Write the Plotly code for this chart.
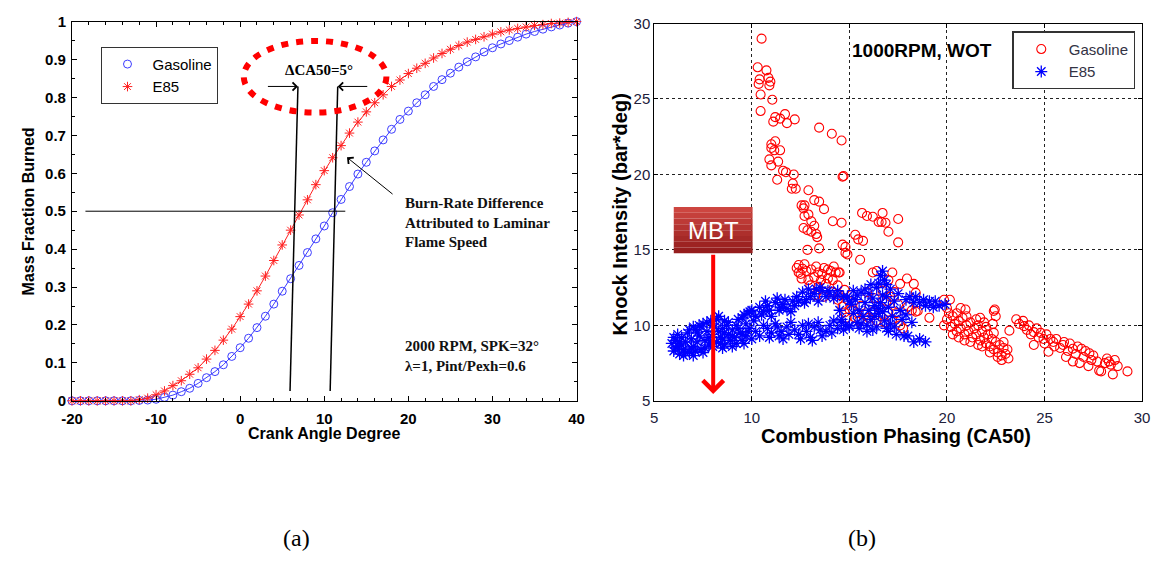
import plotly.graph_objects as go

# ---------------- data: panel (a) ----------------
crank_angle = list(range(-20, 41))
mfb_gasoline = [0, 0, 0, 0, 0, 0, 0, 0, 0.001, 0.002,
                0.004, 0.009, 0.015, 0.024, 0.033, 0.046, 0.061, 0.077, 0.095, 0.117,
                0.140, 0.165, 0.193, 0.223, 0.255, 0.289, 0.322, 0.357, 0.391, 0.427,
                0.461, 0.496, 0.531, 0.565, 0.598, 0.629, 0.659, 0.688, 0.716, 0.742,
                0.764, 0.786, 0.807, 0.829, 0.847, 0.864, 0.880, 0.894, 0.907, 0.920,
                0.931, 0.941, 0.950, 0.959, 0.967, 0.974, 0.980, 0.986, 0.991, 0.996,
                1.0]
mfb_e85 = [0, 0, 0, 0, 0, 0, 0, 0, 0.003, 0.007,
           0.016, 0.026, 0.040, 0.053, 0.070, 0.087, 0.110, 0.133, 0.160, 0.189,
           0.222, 0.255, 0.290, 0.329, 0.370, 0.411, 0.450, 0.490, 0.530, 0.570,
           0.607, 0.641, 0.673, 0.706, 0.735, 0.762, 0.786, 0.807, 0.829, 0.846,
           0.863, 0.877, 0.890, 0.904, 0.916, 0.927, 0.937, 0.946, 0.953, 0.960,
           0.967, 0.973, 0.978, 0.982, 0.986, 0.990, 0.992, 0.995, 0.996, 0.998,
           1.0]
a_xticks = [-20, -10, 0, 10, 20, 30, 40]
a_xticklabels = ["-20", "-10", "0", "10", "20", "30", "40"]
a_yticks = [0, 0.1, 0.2, 0.3, 0.4, 0.5, 0.6, 0.7, 0.8, 0.9, 1.0]
a_yticklabels = ["0", "0.1", "0.2", "0.3", "0.4", "0.5", "0.6", "0.7", "0.8", "0.9", "1"]

# ---------------- data: panel (b) ----------------
gasoline_points = [
    (10.5, 29.0), (10.3, 27.1), (10.75, 26.9), (10.4, 26.3), (10.85, 26.4), (10.35, 26.0),
    (10.9, 25.9), (10.95, 26.15), (10.45, 25.3), (11.05, 24.95), (10.45, 24.2), (11.2, 23.8),
    (11.1, 23.5), (11.7, 24.0), (11.45, 23.7), (11.8, 23.4), (12.2, 23.65), (13.45, 23.1),
    (14.1, 22.7), (14.6, 22.25), (14.7, 19.9), (14.65, 19.85),
    (11.0, 22.0), (11.2, 22.2), (11.0, 21.75), (11.45, 21.6), (11.15, 21.6), (10.9, 21.0),
    (11.35, 20.85), (11.0, 20.6), (11.6, 20.25), (11.75, 20.15), (11.3, 19.65), (12.15, 20.0),
    (12.1, 19.4), (12.05, 19.05), (12.25, 19.05), (12.9, 18.95), (13.2, 18.3), (13.45, 18.2),
    (12.7, 17.95), (12.55, 17.95), (12.65, 17.75), (13.7, 17.7), (12.7, 17.25), (12.9, 17.35),
    (13.05, 16.9), (12.65, 16.45), (12.85, 16.3), (13.05, 16.2), (13.3, 16.05), (13.35, 15.85),
    (13.2, 16.6), (14.15, 16.9), (14.6, 16.8), (13.45, 15.1), (12.85, 15.0), (14.65, 15.35),
    (14.8, 15.2), (14.8, 14.8), (14.9, 14.7),
    (15.3, 16.0), (15.45, 15.7), (15.7, 15.6), (15.65, 17.45), (15.9, 17.25), (16.2, 17.2),
    (16.7, 17.45), (16.65, 16.85), (16.85, 16.8), (17.0, 16.2), (17.5, 17.05), (17.5, 15.5),
    (15.55, 14.35), (16.5, 16.85), (14.45, 13.5),
    (12.3, 13.8), (12.4, 13.5), (12.7, 14.05), (13.05, 13.7), (13.4, 13.5), (13.7, 13.8),
    (14.05, 13.6), (14.3, 13.5), (14.5, 13.5), (12.55, 13.1), (12.9, 13.0), (13.2, 13.2),
    (13.55, 13.0), (13.9, 13.1), (14.15, 13.0), (13.0, 12.65), (13.4, 12.55), (13.8, 12.75),
    (12.5, 13.4), (12.8, 13.6), (13.3, 13.9), (13.6, 13.4), (13.9, 13.7), (14.2, 13.9),
    (14.4, 12.65), (12.4, 14.0), (12.6, 13.75),
    (13.25, 12.0), (13.7, 11.9), (14.15, 12.2), (14.4, 11.7), (14.65, 11.25), (14.75, 10.85),
    (14.9, 11.7), (14.85, 10.5), (15.0, 11.05), (14.5, 12.0), (14.75, 12.35), (15.2, 11.0),
    (15.4, 10.8), (15.6, 11.3), (15.8, 10.7), (16.0, 10.5), (16.2, 10.9), (16.4, 10.3),
    (15.3, 10.5), (15.5, 10.3), (16.6, 10.6), (16.8, 10.2), (17.0, 10.9), (17.2, 10.4),
    (17.4, 10.8), (17.6, 10.0), (17.75, 9.8), (18.0, 11.25), (18.2, 11.0), (18.4, 10.9),
    (16.7, 12.3), (16.9, 11.6), (17.1, 11.9), (17.3, 12.2), (17.5, 11.4), (15.9, 12.2),
    (15.1, 12.0), (16.3, 11.8), (16.4, 13.6), (17.2, 13.5), (17.6, 12.75), (17.95, 13.1),
    (18.3, 12.75), (18.4, 12.15), (18.5, 10.95), (19.1, 10.5), (16.2, 13.5), (17.0, 13.0),
    (19.85, 11.7), (20.15, 11.7), (20.0, 11.15), (20.7, 11.15), (20.95, 11.05), (21.7, 10.5),
    (22.4, 10.95), (22.5, 10.6), (22.35, 10.1), (23.2, 9.65), (19.85, 10.0),
    (20.0, 10.4), (20.2, 9.9), (20.3, 10.6), (20.4, 10.1), (20.5, 9.6), (20.6, 10.3),
    (20.7, 9.8), (20.8, 10.5), (20.9, 9.4), (21.0, 10.0), (21.1, 9.6), (21.2, 10.2),
    (21.3, 9.2), (21.4, 9.8), (21.5, 9.4), (21.6, 10.0), (21.7, 9.0), (21.8, 9.6),
    (21.9, 9.2), (22.0, 8.8), (22.1, 9.4), (22.2, 8.6), (22.3, 9.1), (22.4, 8.4),
    (22.5, 8.9), (22.6, 8.2), (22.7, 8.7), (22.8, 8.0), (22.9, 8.5), (23.0, 8.1),
    (23.1, 8.4), (23.15, 7.8), (22.6, 7.9), (22.0, 9.9), (21.5, 10.4), (21.0, 10.6),
    (20.5, 10.8), (21.2, 8.9), (21.8, 8.6), (22.4, 9.5), (20.1, 10.8), (20.6, 9.2), (22.9, 8.9),
    (20.3, 9.4), (20.9, 9.0), (21.6, 8.7), (22.2, 8.2), (22.8, 7.7), (21.9, 10.2),
    (23.55, 10.4), (23.95, 9.95), (24.45, 9.55), (24.95, 9.1), (25.45, 8.9), (25.95, 8.7),
    (26.45, 8.45), (26.9, 8.45), (27.3, 8.15), (28.3, 7.6), (27.9, 6.95), (28.5, 6.75),
    (29.25, 6.95), (24.45, 8.7), (25.2, 8.25), (26.45, 7.6), (27.25, 7.3), (28.75, 7.3),
    (27.8, 7.0), (22.45, 11.05),
    (23.7, 10.1), (23.9, 10.3), (24.1, 9.7), (24.2, 10.0), (24.3, 9.4), (24.6, 9.8),
    (24.7, 9.2), (24.8, 9.5), (25.0, 8.8), (25.1, 9.4), (25.3, 9.1), (25.5, 8.6),
    (25.6, 9.1), (25.8, 8.5), (26.0, 8.9), (26.2, 8.3), (26.3, 8.8), (26.6, 8.1),
    (26.7, 8.6), (27.0, 7.9), (27.1, 8.3), (27.4, 7.7), (27.5, 8.0), (27.7, 7.6),
    (28.1, 7.5), (28.2, 7.8), (28.4, 7.4), (28.6, 7.7), (26.8, 7.5), (26.1, 7.9),
]

e85_points = [
    (5.9, 8.8), (6.0, 8.3), (6.1, 9.0), (6.2, 8.6), (6.3, 8.1), (6.4, 9.2), (6.5, 8.4),
    (6.6, 8.9), (6.7, 9.5), (6.8, 8.2), (6.9, 9.1), (7.0, 8.6), (7.1, 9.7), (7.2, 8.9),
    (7.3, 9.3), (7.4, 8.4), (7.5, 10.1), (7.6, 9.0), (7.7, 9.6), (7.8, 8.7), (7.9, 10.3),
    (8.0, 9.4), (8.1, 9.9), (8.2, 8.9), (8.3, 10.6), (8.4, 9.2), (8.5, 9.8), (8.6, 8.7),
    (8.7, 10.0), (8.8, 9.4), (8.9, 9.0), (9.0, 9.7), (9.1, 9.2), (9.2, 8.8), (9.3, 10.4),
    (9.4, 9.5), (9.5, 9.0), (9.6, 10.7), (9.7, 9.3), (9.8, 9.6), (9.9, 10.9), (10.0, 9.1),
    (6.5, 8.0), (7.0, 8.0), (7.5, 8.2), (8.0, 8.6), (8.5, 8.5), (9.0, 8.6), (6.2, 9.4),
    (6.8, 9.7), (7.3, 10.0), (7.7, 10.2), (8.2, 10.4), (8.6, 10.3), (6.4, 8.7), (7.1, 8.3),
    (7.9, 8.9), (8.6, 9.5), (9.3, 9.8),
    (6.0, 9.2), (6.3, 8.9), (6.6, 8.2), (6.9, 8.5), (7.2, 9.5), (7.4, 9.9), (7.6, 8.5),
    (7.8, 9.2), (8.0, 10.1), (8.3, 9.6), (8.5, 9.1), (8.8, 10.2), (9.0, 9.3), (9.2, 10.0),
    (9.5, 9.4), (9.7, 10.1), (9.9, 9.8), (6.1, 8.5), (7.0, 9.9), (8.4, 8.8), (9.6, 8.8),
    (9.5, 10.5), (9.8, 10.8), (10.0, 11.0), (10.2, 10.6), (10.4, 11.2), (10.6, 10.9),
    (10.8, 11.3), (11.0, 10.6), (11.2, 11.5), (11.4, 11.0), (11.6, 11.4), (11.8, 11.1),
    (12.0, 10.9), (12.2, 11.3), (12.4, 11.6), (12.6, 12.2), (12.8, 11.7), (13.0, 11.9),
    (13.2, 12.1), (13.4, 11.6), (13.6, 12.3), (13.8, 11.9), (14.0, 12.2), (14.2, 11.8),
    (14.4, 12.0), (12.9, 12.4), (13.5, 12.5), (11.3, 11.8), (11.7, 11.7), (10.7, 11.6),
    (10.1, 10.3), (10.5, 10.7), (10.9, 11.0), (11.5, 11.2), (12.1, 11.6), (12.7, 11.5),
    (13.3, 12.4), (13.9, 12.3), (12.3, 11.9),
    (10.2, 9.6), (10.4, 9.3), (10.6, 10.0), (10.8, 9.8), (11.0, 9.5), (11.2, 10.1),
    (11.4, 9.3), (11.6, 9.1), (11.8, 9.9), (12.0, 10.2), (12.2, 9.7), (12.4, 9.4),
    (12.6, 10.0), (12.8, 9.6), (13.0, 9.2), (13.2, 9.9), (13.4, 10.2), (13.6, 9.3),
    (13.8, 9.6), (14.0, 10.0), (14.2, 10.3), (14.4, 9.8), (14.6, 10.2), (14.8, 10.0),
    (15.0, 9.9), (12.5, 9.1), (13.1, 9.0), (11.5, 9.6),
    (10.9, 9.2), (11.9, 9.4), (12.9, 10.1), (13.5, 9.7), (14.1, 9.5), (14.7, 9.7), (11.3, 9.9),
    (14.4, 12.3), (14.5, 11.0), (14.6, 10.4), (14.7, 11.9), (14.9, 11.9), (15.0, 10.0),
    (15.1, 11.4), (15.2, 10.8), (15.3, 11.7), (15.4, 10.2), (15.5, 11.0), (15.6, 12.2),
    (15.7, 10.6), (15.8, 11.5), (15.9, 10.0), (16.0, 12.1), (16.0, 11.0), (16.1, 10.4),
    (16.2, 11.8), (16.3, 11.3), (16.4, 12.5), (16.4, 9.9), (16.5, 10.8), (16.6, 13.3),
    (16.6, 11.5), (16.7, 12.0), (16.8, 13.0), (16.8, 10.3), (16.9, 11.9), (17.0, 11.2),
    (17.0, 9.6), (17.1, 12.4), (17.2, 10.6), (17.3, 11.6), (17.4, 9.4), (17.5, 12.1),
    (17.6, 11.0), (17.7, 10.4), (17.8, 9.3), (15.5, 9.8), (16.2, 9.7), (16.5, 12.8),
    (16.7, 13.6), (15.2, 12.3), (16.9, 12.7),
    (15.0, 11.6), (15.4, 12.0), (15.8, 12.4), (16.1, 12.7), (16.3, 10.6), (16.7, 10.9),
    (17.1, 10.1), (17.3, 9.9), (15.6, 10.1), (16.5, 11.1), (15.9, 9.6), (16.9, 9.8),
    (17.9, 11.7), (18.1, 11.9), (18.3, 11.5), (18.4, 11.9), (18.6, 11.5), (18.8, 11.7),
    (18.9, 11.3), (19.1, 11.6), (19.3, 11.2), (19.4, 11.6), (19.6, 11.3), (19.9, 11.4),
    (18.0, 9.3), (18.3, 8.9), (18.6, 9.1), (18.9, 8.9), (18.2, 10.2), (17.9, 10.7),
]

gas_ca50 = [p[0] for p in gasoline_points]
gas_ki = [p[1] for p in gasoline_points]
e85_ca50 = [p[0] for p in e85_points]
e85_ki = [p[1] for p in e85_points]

# ---------------- figure ----------------
W, H = 1156, 563


def pxx(v):
    return min(1.0, max(0.0, v / W))


def pxy(v):
    return min(1.0, max(0.0, 1 - v / H))


BLUE_A = "#3c3cff"
RED_A = "#ff2020"
SANS = "Liberation Sans, Arial, sans-serif"
SERIF = "Liberation Serif, Times New Roman, serif"

fig = go.Figure()

fig.add_trace(go.Scatter(x=crank_angle, y=mfb_gasoline, mode="lines",
                         line=dict(color=BLUE_A, width=1), showlegend=False,
                         xaxis="x", yaxis="y", cliponaxis=False))
fig.add_trace(go.Scatter(x=crank_angle, y=mfb_e85, mode="lines",
                         line=dict(color=RED_A, width=1), showlegend=False,
                         xaxis="x", yaxis="y", cliponaxis=False))
fig.add_trace(go.Scatter(x=crank_angle, y=mfb_gasoline, mode="markers", name="Gasoline",
                         marker=dict(symbol="circle-open", size=8, color=BLUE_A,
                                     line=dict(width=1, color=BLUE_A)),
                         xaxis="x", yaxis="y", legend="legend", cliponaxis=False))
fig.add_trace(go.Scatter(x=crank_angle, y=mfb_e85, mode="markers", name="E85",
                         marker=dict(symbol="asterisk-open", size=8, color=RED_A,
                                     line=dict(width=1, color=RED_A)),
                         xaxis="x", yaxis="y", legend="legend", cliponaxis=False))

fig.add_trace(go.Scatter(x=gas_ca50, y=gas_ki, mode="markers", name="Gasoline",
                         marker=dict(symbol="circle-open", size=9, color="#ff0000",
                                     line=dict(width=1.1, color="#ff0000")),
                         xaxis="x2", yaxis="y2", legend="legend2"))
fig.add_trace(go.Scatter(x=e85_ca50, y=e85_ki, mode="markers", name="E85",
                         marker=dict(symbol="asterisk-open", size=10, color="#0000ff",
                                     line=dict(width=1.3, color="#0000ff")),
                         xaxis="x2", yaxis="y2", legend="legend2"))

axis_common = dict(showline=True, linecolor="black", linewidth=1, mirror="ticks",
                   ticks="inside", tickcolor="black", zeroline=False)

fig.update_layout(
    width=W, height=H, margin=dict(l=0, r=0, t=0, b=0),
    paper_bgcolor="white", plot_bgcolor="white",
    xaxis=dict(domain=[pxx(62), pxx(575)], range=[-20, 40],
               tickmode="array", tickvals=a_xticks,
               ticktext=["<b>%s</b>" % t for t in a_xticklabels],
               ticklen=5, showgrid=False, anchor="y", ticklabelstandoff=4,
               tickfont=dict(family=SANS, size=15, color="black"),
               minor=dict(dtick=2, tick0=-20, ticks="inside", ticklen=3, tickcolor="black"),
               **axis_common),
    yaxis=dict(domain=[pxy(404), pxy(13)], range=[0, 1],
               tickmode="array", tickvals=a_yticks,
               ticktext=["<b>%s</b>" % t for t in a_yticklabels],
               ticklen=5, showgrid=False, anchor="x", ticklabelstandoff=2,
               tickfont=dict(family=SANS, size=15, color="black"),
               minor=dict(dtick=0.05, ticks="inside", ticklen=3, tickcolor="black"),
               **axis_common),
    xaxis2=dict(domain=[pxx(654), pxx(1150)], range=[5, 30], dtick=5, ticklen=4,
                showgrid=True, gridcolor="#222222", griddash="dot", gridwidth=1,
                anchor="y2", ticklabelstandoff=3,
                tickfont=dict(family=SANS, size=15, color="#20203a"),
                **axis_common),
    yaxis2=dict(domain=[pxy(404), pxy(15)], range=[5, 30], dtick=5, ticklen=4,
                showgrid=True, gridcolor="#222222", griddash="dot", gridwidth=1,
                anchor="x2", tickfont=dict(family=SANS, size=15, color="#20203a"),
                **axis_common),
    legend=dict(x=pxx(92), y=pxy(39), xanchor="left", yanchor="top",
                bordercolor="#333333", borderwidth=1, bgcolor="white", itemwidth=40,
                font=dict(family=SANS, size=15, color="black")),
    legend2=dict(x=pxx(1018), y=pxy(23), xanchor="left", yanchor="top",
                 bordercolor="#333333", borderwidth=1.5, bgcolor="white", itemwidth=45,
                 font=dict(family=SANS, size=15, color="#333344")),
)

shapes = []
# panel (a) guide lines
shapes.append(dict(type="line", xref="x", yref="y", x0=-18.4, y0=0.5, x1=12.5, y1=0.5,
                   line=dict(color="black", width=1)))
shapes.append(dict(type="line", xref="x", yref="y", x0=5.93, y0=0.026, x1=6.87, y1=0.829,
                   line=dict(color="black", width=1.5)))
shapes.append(dict(type="line", xref="x", yref="y", x0=10.7, y0=0.026, x1=11.6, y1=0.829,
                   line=dict(color="black", width=1.5)))
shapes.append(dict(type="circle", xref="x", yref="y", x0=0.43, y0=0.76, x1=17.39, y1=0.949,
                   line=dict(color="#ff0000", width=6, dash="7px,8px")))

# MBT box with vertical gradient
top_c = (205, 70, 64)
bot_c = (150, 30, 30)
y_top, y_bot = 17.85, 14.77
n_strips = 8
for i in range(n_strips):
    t = i / (n_strips - 1)
    c = tuple(int(top_c[k] + (bot_c[k] - top_c[k]) * t) for k in range(3))
    y1 = y_top - (y_top - y_bot) * i / n_strips
    y0 = y_top - (y_top - y_bot) * (i + 1) / n_strips
    shapes.append(dict(type="rect", xref="x2", yref="y2", x0=6.0, x1=10.04, y0=y0, y1=y1,
                       fillcolor="rgb(%d,%d,%d)" % c, line=dict(width=0), layer="above"))
fig.update_layout(shapes=shapes)

C = dict(xanchor="center", yanchor="middle")
ann = []
# panel (a) arrows
ann.append(dict(xref="x", yref="y", axref="x", ayref="y", x=6.87, y=0.829, ax=3.12, ay=0.829,
                text="", showarrow=True, arrowhead=4, arrowsize=1.6, arrowwidth=1,
                arrowcolor="black"))
ann.append(dict(xref="x", yref="y", axref="x", ayref="y", x=11.6, y=0.829, ax=15.29, ay=0.829,
                text="", showarrow=True, arrowhead=4, arrowsize=1.6, arrowwidth=1,
                arrowcolor="black"))
ann.append(dict(xref="x", yref="y", axref="x", ayref="y", x=12.7, y=0.642, ax=18.3, ay=0.542,
                text="", showarrow=True, arrowhead=4, arrowsize=1.6, arrowwidth=1,
                arrowcolor="black"))
ann.append(dict(xref="x", yref="y", x=9.32, y=0.872, text="ΔCA50=5°", showarrow=False,
                font=dict(family=SERIF, size=15, color="black", weight="bold"), **C))
ann.append(dict(xref="x", yref="y", x=19.38, y=0.548, xanchor="left", yanchor="top",
                align="left", showarrow=False,
                text="Burn-Rate Difference<br>Attributed to Laminar<br>Flame Speed",
                font=dict(family=SERIF, size=15, color="#111111", weight="bold")))
ann.append(dict(xref="x", yref="y", x=19.38, y=0.172, xanchor="left", yanchor="top",
                align="left", showarrow=False,
                text="2000 RPM, SPK=32°<br>λ=1, Pint/Pexh=0.6",
                font=dict(family=SERIF, size=15, color="#111111", weight="bold")))
# axis titles
ann.append(dict(xref="paper", yref="paper", x=pxx(318.5), y=pxy(438), text="Crank Angle Degree",
                showarrow=False, font=dict(family=SANS, size=16, color="black", weight="bold"), **C))
ann.append(dict(xref="paper", yref="paper", x=pxx(18), y=pxy(209), text="Mass Fraction Burned",
                textangle=-90, showarrow=False,
                font=dict(family=SANS, size=16, color="black", weight="bold"), **C))
ann.append(dict(xref="paper", yref="paper", x=pxx(900), y=pxy(440),
                text="Combustion Phasing (CA50)", showarrow=False,
                font=dict(family=SANS, size=20, color="black", weight="bold"), **C))
ann.append(dict(xref="paper", yref="paper", x=pxx(619), y=pxy(212),
                text="Knock Intensity (bar*deg)", textangle=-90, showarrow=False,
                font=dict(family=SANS, size=20, color="black", weight="bold"), **C))
# panel (b) labels
ann.append(dict(xref="paper", yref="paper", x=pxx(853), y=pxy(43), xanchor="left",
                yanchor="middle", text="1000RPM, WOT", showarrow=False,
                font=dict(family=SANS, size=19, color="black", weight="bold")))
ann.append(dict(xref="x2", yref="y2", x=8.02, y=16.31, text="MBT", showarrow=False,
                font=dict(family=SANS, size=24, color="white"), **C))
ann.append(dict(xref="x2", yref="y2", axref="x2", ayref="y2", x=8.02, y=5.45, ax=8.02, ay=14.77,
                text="", showarrow=True, arrowhead=4, arrowsize=1, arrowwidth=4,
                arrowcolor="#ff0000"))
# captions
ann.append(dict(xref="paper", yref="paper", x=pxx(290), y=pxy(545), text="(a)", showarrow=False,
                font=dict(family=SERIF, size=24, color="black"), **C))
ann.append(dict(xref="paper", yref="paper", x=pxx(865), y=pxy(545), text="(b)", showarrow=False,
                font=dict(family=SERIF, size=24, color="black"), **C))
fig.update_layout(annotations=ann)

fig.write_html("out.html")
